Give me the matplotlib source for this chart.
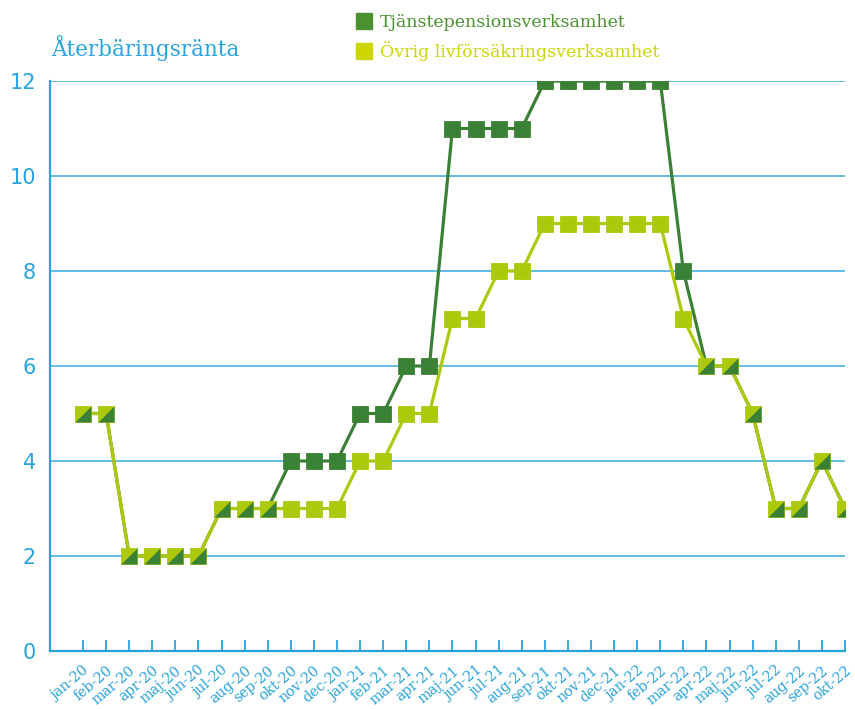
import numpy as np
import matplotlib.pyplot as plt
from matplotlib.lines import Line2D

months = ['jan-20', 'feb-20', 'mar-20', 'apr-20', 'maj-20', 'jun-20', 'jul-20', 'aug-20',
          'sep-20', 'okt-20', 'nov-20', 'dec-20', 'jan-21', 'feb-21', 'mar-21', 'apr-21',
          'maj-21', 'jun-21', 'jul-21', 'aug-21', 'sep-21', 'okt-21', 'nov-21', 'dec-21',
          'jan-22', 'feb-22', 'mar-22', 'apr-22', 'maj-22', 'jun-22', 'jul-22', 'aug-22',
          'sep-22', 'okt-22']

tjanste = [5, 5, 2, 2, 2, 2, 3, 3, 3, 4, 4, 4, 5, 5, 6, 6,
           11, 11, 11, 11, 12, 12, 12, 12, 12, 12, 8, 6, 6, 5, 3, 3, 4, 3]
ovrig = [5, 5, 2, 2, 2, 2, 3, 3, 3, 3, 3, 3, 4, 4, 5, 5,
         7, 7, 8, 8, 9, 9, 9, 9, 9, 9, 7, 6, 6, 5, 3, 3, 4, 3]

labels = ['Tjänstepensionsverksamhet', 'Övrig livförsäkringsverksamhet']
title = 'Återbäringsränta'
yticks = [0, 2, 4, 6, 8, 10, 12]

# colours
blue = '#29a3dd'
grid_blue = '#62bde8'
dark = '#3a8136'
light = '#adc90c'
dark_leg = '#4a922f'
light_leg = '#ccd600'

plt.rcParams['font.family'] = ['DejaVu Serif', 'DejaVu Sans']

fig = plt.figure(figsize=(8.55, 7.09), dpi=100)
ax = fig.add_axes([50 / 855, 58 / 709, 795 / 855, 570 / 709])

x = np.arange(len(months))
t = np.array(tjanste)
o = np.array(ovrig)
same = t == o

# lines
ax.plot(x, t, color=dark, lw=2.3, zorder=3, solid_capstyle='butt')
ax.plot(x, o, color=light, lw=2.3, zorder=3, solid_capstyle='butt')

# markers where the series differ
ms = 11.5
ax.plot(x[~same], t[~same], 's', ms=ms, color=dark, mec=dark, mew=0.6, zorder=4)
ax.plot(x[~same], o[~same], 's', ms=ms, color=light, mec=light, mew=0.6, zorder=4)

# split markers where they are equal: light square with dark lower-right half
lower_right = [(-1, -1), (1, -1), (1, 1), (-1, -1)]
ax.plot(x[same], t[same], 's', ms=ms, color=light, mec=light, mew=0.6, zorder=4)
ax.plot(x[same], t[same], ls='none', marker=lower_right, ms=ms, color=dark,
        mec=dark, mew=0, zorder=5)

ax.set_xlim(-1.43, 33)
ax.set_ylim(0, 12)
ax.set_yticks(yticks)
ax.set_yticklabels([str(v) for v in yticks], color=blue, fontsize=15,
                   family='DejaVu Sans')
ax.tick_params(axis='y', length=0, pad=10)
ax.set_xticks(x)
ax.set_xticklabels(months, rotation=40, ha='right', va='top',
                   rotation_mode='anchor', color=blue, fontsize=10.2)
ax.tick_params(axis='x', direction='in', length=8, width=1.3, color=blue, pad=9)

ax.yaxis.grid(True, color=grid_blue, lw=1.4)
ax.set_axisbelow(True)
for side in ['top', 'right']:
    ax.spines[side].set_visible(False)
for side in ['left', 'bottom']:
    ax.spines[side].set_color(blue)
    ax.spines[side].set_linewidth(1.6)

fig.text(51 / 855, 1 - 48 / 709, title, color=blue, fontsize=15.5, va='center', ha='left')

handles = [Line2D([], [], ls='none', marker='s', ms=12, color=dark_leg),
           Line2D([], [], ls='none', marker='s', ms=12, color=light_leg)]
leg = fig.legend(handles, labels, loc='upper left', bbox_to_anchor=(338 / 855, 1 + 2 / 709),
                 frameon=False, fontsize=12.5, handletextpad=0.3, labelspacing=0.6,
                 handlelength=1.2)
for txt, c in zip(leg.get_texts(), [dark_leg, light_leg]):
    txt.set_color(c)

fig.savefig('out.png', dpi=100)
